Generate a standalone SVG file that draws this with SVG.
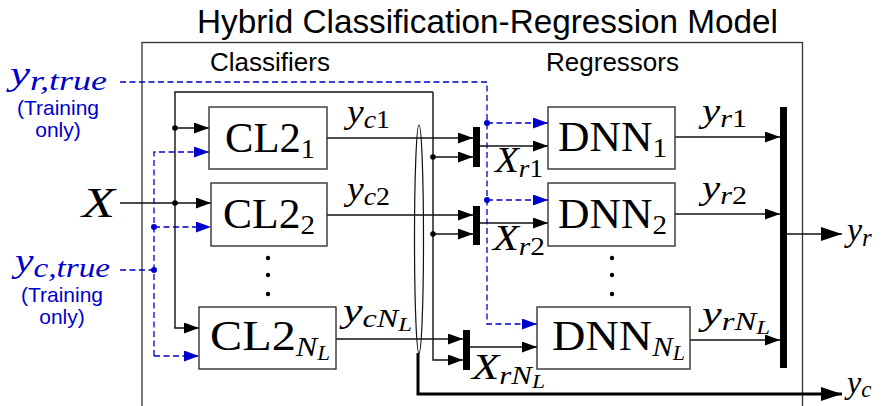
<svg xmlns="http://www.w3.org/2000/svg" width="883" height="406" viewBox="0 0 883 406">
<defs>
<style>
.ln{stroke:#111;stroke-width:1.4;fill:none}
.thick{stroke:#000;stroke-width:3;fill:none}
.bl{stroke:#0000cc;stroke-width:1.3;stroke-dasharray:6 3.5;fill:none}
.box{fill:#fff;stroke:#333;stroke-width:1.4}
.outer{fill:none;stroke:#333;stroke-width:1.3}
.bar{fill:#000}
.dot{fill:#000}
.bdot{fill:#0000cc}
.sans{font-family:"Liberation Sans",Arial,sans-serif;fill:#000}
.rm{font-family:"Liberation Serif","Times New Roman",serif;fill:#000}
.mi{font-family:"Liberation Serif","Times New Roman",serif;font-style:italic;fill:#000}
.blue{fill:#0000cc}
.up{font-style:normal}
</style>
<marker id="ah" markerUnits="userSpaceOnUse" markerWidth="15" markerHeight="11" refX="15" refY="5.5" orient="auto">
<path d="M0,0 L15,5.5 L0,11 z" fill="#000"/>
</marker>
<marker id="ahb" markerUnits="userSpaceOnUse" markerWidth="15" markerHeight="11" refX="15" refY="5.5" orient="auto">
<path d="M0,0 L15,5.5 L0,11 z" fill="#0000cc"/>
</marker>
<marker id="ahbig" markerUnits="userSpaceOnUse" markerWidth="21" markerHeight="14" refX="21" refY="7" orient="auto">
<path d="M0,0 L21,7 L0,14 z" fill="#000"/>
</marker>
</defs>
<rect width="883" height="406" fill="#fff"/>

<g id="frame">
<rect class="outer" x="142" y="42.5" width="660.5" height="380"/>
<text class="sans" x="197" y="33" font-size="33" textLength="581" lengthAdjust="spacingAndGlyphs">Hybrid Classification-Regression Model</text>
<text class="sans" x="210" y="71" font-size="25" textLength="120" lengthAdjust="spacingAndGlyphs">Classifiers</text>
<text class="sans" x="546" y="71" font-size="25" textLength="133" lengthAdjust="spacingAndGlyphs">Regressors</text>
</g>

<g id="connectors">
<path class="ln" d="M120,203 H211" marker-end="url(#ah)"/>
<path class="ln" d="M433,92 H175 V328 H199" marker-end="url(#ah)"/>
<path class="ln" d="M433,92 V360 H463" marker-end="url(#ah)"/>
<path class="ln" d="M175,128 H209" marker-end="url(#ah)"/>
<path class="ln" d="M433,157 H473" marker-end="url(#ah)"/>
<path class="ln" d="M433,234 H473" marker-end="url(#ah)"/>
<path class="ln" d="M327,138 H473" marker-end="url(#ah)"/>
<path class="ln" d="M327,215 H473" marker-end="url(#ah)"/>
<path class="ln" d="M336,339 H463" marker-end="url(#ah)"/>
<path class="ln" d="M480,146 H548" marker-end="url(#ah)"/>
<path class="ln" d="M480,223 H548" marker-end="url(#ah)"/>
<path class="ln" d="M470,347 H537" marker-end="url(#ah)"/>
<path class="ln" d="M675,137 H780" marker-end="url(#ah)"/>
<path class="ln" d="M675,214 H780" marker-end="url(#ah)"/>
<path class="ln" d="M690,340 H780" marker-end="url(#ah)"/>
<path class="ln" d="M787,234 H842" stroke-width="2" marker-end="url(#ahbig)"/>
<path class="thick" d="M418,353 V394 H842" marker-end="url(#ahbig)"/>
<ellipse cx="419" cy="239" rx="4.5" ry="114" fill="none" stroke="#111" stroke-width="1.2"/>
<path class="bl" d="M120,82 H487 V324 H537" marker-end="url(#ahb)"/>
<path class="bl" d="M487,123 H548" marker-end="url(#ahb)"/>
<path class="bl" d="M487,200 H548" marker-end="url(#ahb)"/>
<path class="bl" d="M154,356 V152 H209" marker-end="url(#ahb)"/>
<path class="bl" d="M154,356 H199" marker-end="url(#ahb)"/>
<path class="bl" d="M120,270 H154"/>
<path class="bl" d="M154,227 H211" marker-end="url(#ahb)"/>
<rect class="bar" x="473" y="127" width="7" height="40"/>
<rect class="bar" x="473" y="206" width="7" height="39"/>
<rect class="bar" x="463" y="330" width="7" height="40"/>
<rect class="bar" x="780" y="107" width="7" height="261"/>
<circle class="dot" cx="175" cy="128" r="2.8"/>
<circle class="dot" cx="175" cy="203" r="2.8"/>
<circle class="dot" cx="433" cy="157" r="2.8"/>
<circle class="dot" cx="433" cy="234" r="2.8"/>
<circle class="bdot" cx="154" cy="227" r="3"/>
<circle class="bdot" cx="154" cy="270" r="3"/>
<circle class="bdot" cx="487" cy="123" r="3"/>
<circle class="bdot" cx="487" cy="200" r="3"/>
<circle class="dot" cx="268" cy="258" r="2.2"/>
<circle class="dot" cx="268" cy="275" r="2.2"/>
<circle class="dot" cx="268" cy="294" r="2.2"/>
<circle class="dot" cx="612" cy="258" r="2.2"/>
<circle class="dot" cx="612" cy="275" r="2.2"/>
<circle class="dot" cx="612" cy="294" r="2.2"/>
<text class="mi" x="347" y="123" font-size="34" textLength="43" lengthAdjust="spacingAndGlyphs">y<tspan font-size="25" dy="5">c</tspan><tspan class="up" font-size="25">1</tspan></text>
<text class="mi" x="347" y="200" font-size="34" textLength="43" lengthAdjust="spacingAndGlyphs">y<tspan font-size="25" dy="5">c</tspan><tspan class="up" font-size="25">2</tspan></text>
<text class="mi" x="343" y="322" font-size="34" textLength="69" lengthAdjust="spacingAndGlyphs">y<tspan font-size="25" dy="5">cN</tspan><tspan font-size="19" dy="4">L</tspan></text>
<text class="mi" x="495" y="172" font-size="36" textLength="48" lengthAdjust="spacingAndGlyphs">X<tspan font-size="25" dy="5">r</tspan><tspan class="up" font-size="25">1</tspan></text>
<text class="mi" x="493" y="250" font-size="36" textLength="52" lengthAdjust="spacingAndGlyphs">X<tspan font-size="25" dy="5">r</tspan><tspan class="up" font-size="25">2</tspan></text>
<text class="mi" x="472" y="379" font-size="36" textLength="73" lengthAdjust="spacingAndGlyphs">X<tspan font-size="25" dy="5">rN</tspan><tspan font-size="19" dy="4">L</tspan></text>
<text class="mi" x="702" y="122" font-size="34" textLength="45" lengthAdjust="spacingAndGlyphs">y<tspan font-size="25" dy="5">r</tspan><tspan class="up" font-size="25">1</tspan></text>
<text class="mi" x="702" y="199" font-size="34" textLength="45" lengthAdjust="spacingAndGlyphs">y<tspan font-size="25" dy="5">r</tspan><tspan class="up" font-size="25">2</tspan></text>
<text class="mi" x="702" y="325" font-size="34" textLength="68" lengthAdjust="spacingAndGlyphs">y<tspan font-size="25" dy="5">rN</tspan><tspan font-size="19" dy="4">L</tspan></text>
</g>

<g id="inputs">
<text class="mi blue" x="10" y="85" font-size="34" textLength="97" lengthAdjust="spacingAndGlyphs">y<tspan font-size="27" dy="5">r,true</tspan></text>
<text class="sans blue" x="58" y="115" font-size="21" text-anchor="middle">(Training</text>
<text class="sans blue" x="58" y="137" font-size="21" text-anchor="middle">only)</text>
<text class="mi" x="82" y="217" font-size="42" textLength="33" lengthAdjust="spacingAndGlyphs">X</text>
<text class="mi blue" x="15" y="272" font-size="34" textLength="95" lengthAdjust="spacingAndGlyphs">y<tspan font-size="27" dy="5">c,true</tspan></text>
<text class="sans blue" x="62" y="302" font-size="21" text-anchor="middle">(Training</text>
<text class="sans blue" x="62" y="324" font-size="21" text-anchor="middle">only)</text>
</g>

<g id="cl2_1">
<rect class="box" x="209" y="107" width="118" height="62"/>
<text class="rm" x="225" y="152" font-size="42" textLength="90" lengthAdjust="spacingAndGlyphs">CL2<tspan font-size="28" dy="6">1</tspan></text>
</g>
<g id="cl2_2">
<rect class="box" x="211" y="183" width="116" height="63"/>
<text class="rm" x="223" y="228" font-size="42" textLength="92" lengthAdjust="spacingAndGlyphs">CL2<tspan font-size="28" dy="6">2</tspan></text>
</g>
<g id="cl2_nl">
<rect class="box" x="199" y="307" width="137" height="62"/>
<text class="rm" x="210" y="350" font-size="42" textLength="120" lengthAdjust="spacingAndGlyphs">CL2<tspan class="mi" font-size="28" dy="6">N</tspan><tspan class="mi" font-size="20" dy="4">L</tspan></text>
</g>
<g id="dnn_1">
<rect class="box" x="548" y="107" width="127" height="62"/>
<text class="rm" x="558" y="151" font-size="42" textLength="109" lengthAdjust="spacingAndGlyphs">DNN<tspan font-size="28" dy="6">1</tspan></text>
</g>
<g id="dnn_2">
<rect class="box" x="548" y="183" width="127" height="63"/>
<text class="rm" x="558" y="228" font-size="42" textLength="109" lengthAdjust="spacingAndGlyphs">DNN<tspan font-size="28" dy="6">2</tspan></text>
</g>
<g id="dnn_nl">
<rect class="box" x="537" y="307" width="153" height="62"/>
<text class="rm" x="552" y="350" font-size="42" textLength="133" lengthAdjust="spacingAndGlyphs">DNN<tspan class="mi" font-size="28" dy="6">N</tspan><tspan class="mi" font-size="20" dy="4">L</tspan></text>
</g>

<g id="outputs">
<text class="mi" x="847" y="241" font-size="34">y<tspan font-size="25" dy="5">r</tspan></text>
<text class="mi" x="847" y="393" font-size="32">y<tspan font-size="23" dy="4">c</tspan></text>
</g>
</svg>
